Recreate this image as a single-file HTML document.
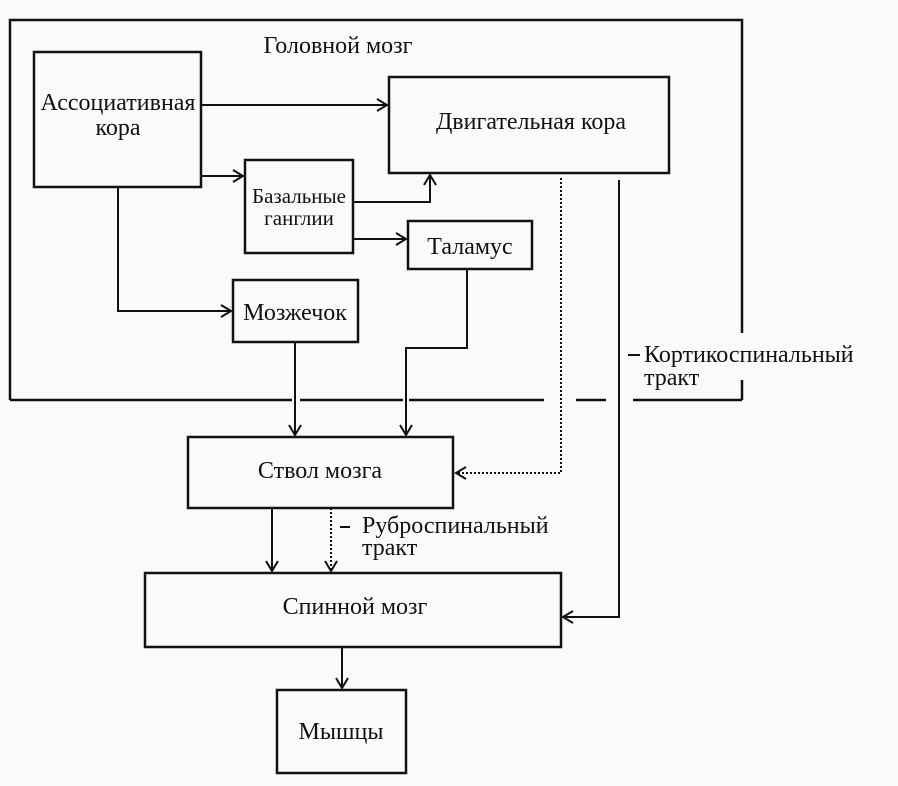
<!DOCTYPE html>
<html><head><meta charset="utf-8"><style>
html,body{margin:0;padding:0;background:#fafafa;}
svg{display:block}
text{font-family:"Liberation Serif",serif;fill:#111;}
</style></head><body>
<svg width="898" height="786" viewBox="0 0 898 786" xmlns="http://www.w3.org/2000/svg">
<defs>
<marker id="a" markerWidth="14" markerHeight="14" refX="12" refY="7" orient="auto" markerUnits="userSpaceOnUse">
<path d="M2,1 L12,7 L2,13" fill="none" stroke="#111" stroke-width="2"/></marker>
</defs>
<g fill="none" stroke="#111" stroke-width="2.5">
<path d="M10,400 L10,20 L742,20 L742,333 M742,380 L742,400"/>
<path d="M10,400 H292 M300,400 H403 M409,400 H544 M576,400 H606 M633,400 H742"/>
<rect x="34" y="52" width="167" height="135"/>
<rect x="389" y="77" width="280" height="96"/>
<rect x="245" y="160" width="108" height="93"/>
<rect x="408" y="221" width="124" height="48"/>
<rect x="233" y="280" width="125" height="62"/>
<rect x="188" y="437" width="265" height="71"/>
<rect x="145" y="573" width="416" height="74"/>
<rect x="277" y="690" width="129" height="83"/>
</g>
<g fill="none" stroke="#111" stroke-width="2">
<path d="M201,105 H387" marker-end="url(#a)"/>
<path d="M201,176 H243" marker-end="url(#a)"/>
<path d="M353,202 H430 V175" marker-end="url(#a)"/>
<path d="M353,239 H406" marker-end="url(#a)"/>
<path d="M118,187 V311 H231" marker-end="url(#a)"/>
<path d="M295,342 V435" marker-end="url(#a)"/>
<path d="M467,269 V348 H406 V435" marker-end="url(#a)"/>
<path d="M619,180 V617 H563" marker-end="url(#a)"/>
<path d="M272,508 V571" marker-end="url(#a)"/>
<path d="M342,647 V688" marker-end="url(#a)"/>
<path d="M561,178 V473 H457" stroke-dasharray="2,2"/>
<path d="M457,473 H456" marker-end="url(#a)"/>
<path d="M331,508 V571" stroke-dasharray="2,2"/>
<path d="M331,570 V571" marker-end="url(#a)"/>
<path d="M628,355 H640 M340,527 H350" stroke-width="2"/>
</g>
<g font-size="24">
<text x="338" y="53" text-anchor="middle">Головной мозг</text>
<text x="118" y="110" text-anchor="middle">Ассоциативная</text>
<text x="118" y="135" text-anchor="middle">кора</text>
<text x="531" y="129" text-anchor="middle">Двигательная кора</text>
<text x="299" y="203" text-anchor="middle" font-size="21">Базальные</text>
<text x="299" y="225" text-anchor="middle" font-size="21">ганглии</text>
<text x="470" y="254" text-anchor="middle">Таламус</text>
<text x="295" y="320" text-anchor="middle">Мозжечок</text>
<text x="320" y="478" text-anchor="middle">Ствол мозга</text>
<text x="355" y="614" text-anchor="middle">Спинной мозг</text>
<text x="341" y="739" text-anchor="middle">Мышцы</text>
<text x="644" y="362">Кортикоспинальный</text>
<text x="644" y="385">тракт</text>
<text x="362" y="533">Руброспинальный</text>
<text x="362" y="555">тракт</text>
</g>
</svg>
</body></html>
